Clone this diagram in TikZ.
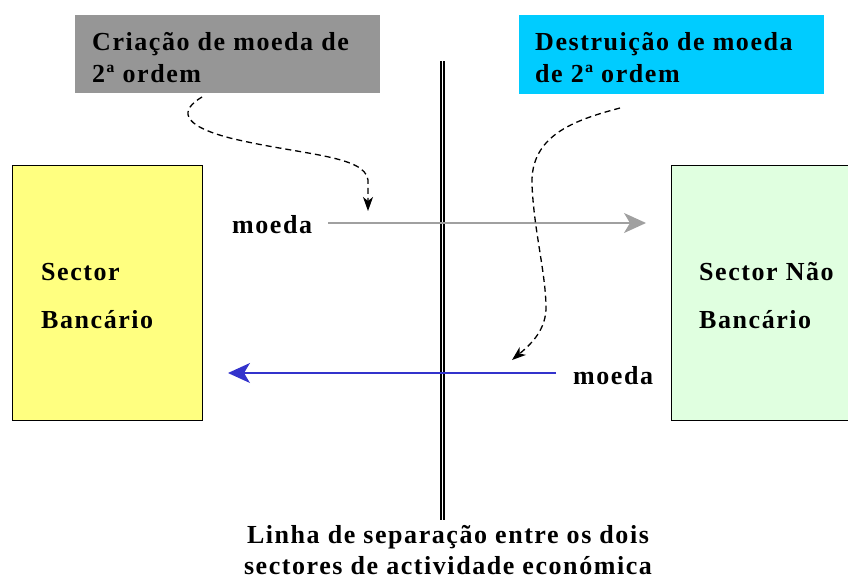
\documentclass[tikz,border=0pt]{standalone}
\usepackage{fontspec}
\usetikzlibrary{arrows.meta}
\newfontfamily\labfont{Liberation Serif}[LetterSpace=6]
\definecolor{boxgray}{RGB}{150,150,150}
\definecolor{boxcyan}{RGB}{0,204,255}
\definecolor{boxyellow}{RGB}{255,255,128}
\definecolor{boxgreen}{RGB}{224,255,224}
\definecolor{arrgray}{RGB}{160,160,160}
\definecolor{arrblue}{RGB}{51,51,204}
\tikzset{
  lab/.style={font=\labfont\bfseries\fontsize{26}{30}\selectfont, inner sep=0pt, anchor=base west},
  sectorbox/.style={draw=black, line width=1.2pt, inner sep=0pt, anchor=north west},
  titlebox/.style={inner sep=0pt, anchor=north west},
  bigarrow/.style={line width=1.5pt, -{Stealth[length=22pt,width=20pt,inset=6pt]}},
  dasharrow/.style={line width=1.3pt, dash pattern=on 6pt off 4pt, -{Stealth[length=14pt,width=10pt,inset=4pt]}},
}
\begin{document}
\begin{tikzpicture}[x=1pt,y=-1pt]
\useasboundingbox (0,0) rectangle (848,579);
% title boxes
\node[titlebox, fill=boxgray, minimum width=305pt, minimum height=78pt] (crea) at (75,15) {};
\node[lab] (crea1) at (92,50) {Criação de moeda de};
\node[lab] (crea2) at (92,82) {2ª ordem};
\node[titlebox, fill=boxcyan, minimum width=305pt, minimum height=79pt] (dest) at (519,15) {};
\node[lab] (dest1) at (535,50) {Destruição de moeda};
\node[lab] (dest2) at (535,82) {de 2ª ordem};
% sector boxes
\node[sectorbox, fill=boxyellow, minimum width=190pt, minimum height=255pt] (banc) at (12,165) {};
\node[lab] (banc1) at (41,280) {Sector};
\node[lab] (banc2) at (41,328) {Bancário};
\node[sectorbox, fill=boxgreen, minimum width=190pt, minimum height=255pt] (nbanc) at (671,165) {};
\node[lab] (nbanc1) at (699,280) {Sector Não};
\node[lab] (nbanc2) at (699,328) {Bancário};
% separation line
\coordinate (septop) at (442.5,61);
\coordinate (sepbot) at (442.5,520);
\draw[line width=1.3pt, double=white, double distance=1.6pt] (septop) -- (sepbot);
% money arrows
\node[lab] (moeda1) at (232,233) {moeda};
\node[lab] (moeda2) at (573,384) {moeda};
\coordinate (g1) at (328,223);
\coordinate (g2) at (646,223);
\coordinate (b1) at (556,373);
\coordinate (b2) at (228,373);
\draw[bigarrow, arrgray] (g1) -- (g2);
\draw[bigarrow, arrblue] (b1) -- (b2);
% dashed curves
\coordinate (c1s) at (202,97);
\coordinate (c1e) at (368,211);
\draw[dasharrow] (c1s) .. controls (180,110) and (180,125) .. (230,138)
  .. controls (300,155) and (365,155) .. (368,180) -- (c1e);
\coordinate (c2s) at (620,108);
\coordinate (c2e) at (512,360);
\draw[dasharrow] (c2s) .. controls (575,120) and (530,135) .. (532,185)
  .. controls (534,230) and (545,270) .. (546,305)
  .. controls (547,330) and (530,345) .. (c2e);
% bottom caption
\node[lab, anchor=base] (cap1) at (448,543) {Linha de separação entre os dois};
\node[lab, anchor=base] (cap2) at (448,574) {sectores de actividade económica};
\end{tikzpicture}
\end{document}
